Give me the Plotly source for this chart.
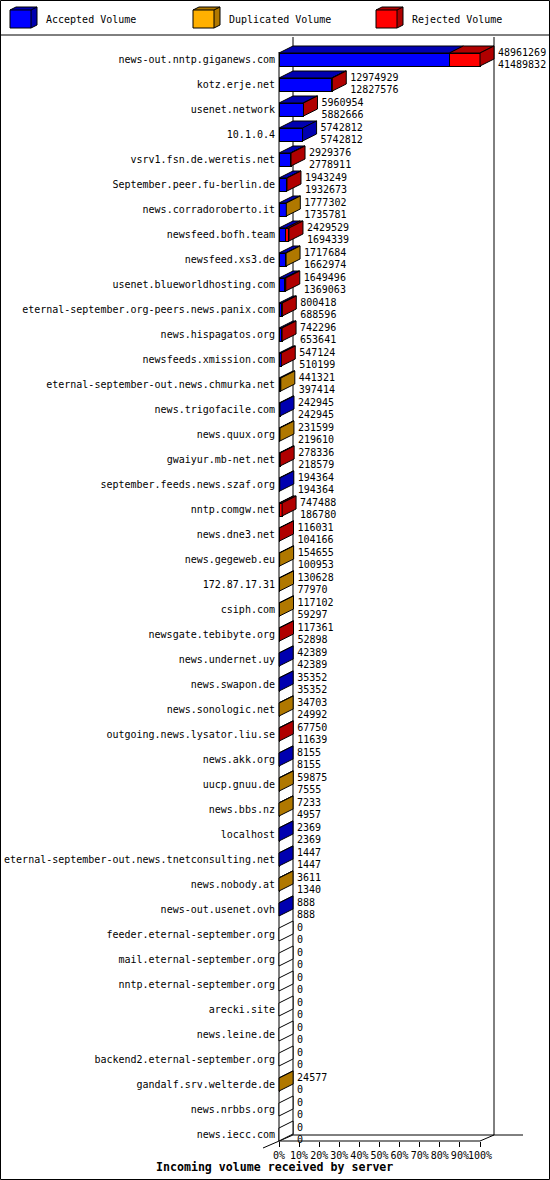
import plotly.graph_objects as go

HOSTS = [
    "news-out.nntp.giganews.com", "kotz.erje.net", "usenet.network", "10.1.0.4",
    "vsrv1.fsn.de.weretis.net", "September.peer.fu-berlin.de", "news.corradoroberto.it",
    "newsfeed.bofh.team", "newsfeed.xs3.de", "usenet.blueworldhosting.com",
    "eternal-september.org-peers.news.panix.com", "news.hispagatos.org",
    "newsfeeds.xmission.com", "eternal-september-out.news.chmurka.net",
    "news.trigofacile.com", "news.quux.org", "gwaiyur.mb-net.net",
    "september.feeds.news.szaf.org", "nntp.comgw.net", "news.dne3.net",
    "news.gegeweb.eu", "172.87.17.31", "csiph.com", "newsgate.tebibyte.org",
    "news.undernet.uy", "news.swapon.de", "news.sonologic.net",
    "outgoing.news.lysator.liu.se", "news.akk.org", "uucp.gnuu.de", "news.bbs.nz",
    "localhost", "eternal-september-out.news.tnetconsulting.net", "news.nobody.at",
    "news-out.usenet.ovh", "feeder.eternal-september.org", "mail.eternal-september.org",
    "nntp.eternal-september.org", "arecki.site", "news.leine.de",
    "backend2.eternal-september.org", "gandalf.srv.welterde.de", "news.nrbbs.org",
    "news.iecc.com",
]
ACCEPTED = [
    41489832, 12827576, 5882666, 5742812, 2778911, 1932673, 1735781, 1694339,
    1662974, 1369063, 688596, 653641, 510199, 397414, 242945, 219610, 218579,
    194364, 186780, 104166, 100953, 77970, 59297, 52898, 42389, 35352, 24992,
    11639, 8155, 7555, 4957, 2369, 1447, 1340, 888, 0, 0, 0, 0, 0, 0, 0, 0, 0,
]
DUPLICATED = [
    0, 0, 0, 0, 0, 0, 41521, 0, 54710, 0, 0, 0, 0, 43907, 0, 11989, 0, 0, 0, 0,
    53702, 52658, 57805, 0, 0, 0, 9711, 0, 0, 52320, 2276, 0, 0, 2271, 0,
    0, 0, 0, 0, 0, 0, 24577, 0, 0,
]
REJECTED = [
    7471437, 147353, 78288, 0, 150465, 10576, 0, 735190, 0, 280433, 111822,
    88655, 36925, 0, 0, 0, 59757, 0, 560708, 11865, 0, 0, 0, 64463, 0, 0, 0,
    56111, 0, 0, 0, 0, 0, 0, 0, 0, 0, 0, 0, 0, 0, 0, 0, 0,
]
SERIES = ["Accepted Volume", "Duplicated Volume", "Rejected Volume"]
X_TICKS = [0, 10, 20, 30, 40, 50, 60, 70, 80, 90, 100]

FRONT = ["#0000FF", "#FFB000", "#FF0000"]
DARK = ["#0000B0", "#B07800", "#B00000"]
FONT = "DejaVu Sans Mono"

W, H = 550, 1180
PX = 2.01            # pixels per percent
X0 = 279             # pixel of 0 %
ROW0, ROW = 59.5, 25  # pixel of first row centre, row pitch
DX = 14 / PX          # 3d depth in x units
DY = 7 / ROW          # 3d depth in row units
HALF = 6.5 / ROW


def fx(p):
    return (p - X0) / PX


def fy(p):
    return (p - ROW0) / ROW


n = len(HOSTS)
totals = [a + d + r for a, d, r in zip(ACCEPTED, DUPLICATED, REJECTED)]
vmax = max(totals)
segs = [[v / vmax * 100 for v in s] for s in (ACCEPTED, DUPLICATED, REJECTED)]
rows = list(range(n))

fig = go.Figure()

# front faces
for k in range(3):
    fig.add_trace(go.Bar(
        y=rows, x=segs[k], orientation="h", width=2 * HALF,
        marker=dict(color=FRONT[k], line=dict(color="black", width=1)),
        name=SERIES[k], showlegend=False, hoverinfo="skip",
    ))

# top faces
for k in range(3):
    xs, ys = [], []
    for i in rows:
        v = segs[k][i]
        if v <= 0:
            continue
        x0 = sum(segs[j][i] for j in range(k))
        x1 = x0 + v
        yt = i - HALF
        xs += [x0, x1, x1 + DX, x0 + DX, x0, None]
        ys += [yt, yt, yt - DY, yt - DY, yt, None]
    fig.add_trace(go.Scatter(
        x=xs, y=ys, mode="lines", fill="toself", fillcolor=DARK[k],
        line=dict(color="black", width=1), showlegend=False, hoverinfo="skip",
    ))

# side faces, coloured by last non-empty segment
side = {c: ([], []) for c in DARK + ["white"]}
for i in rows:
    col = "white"
    for k in range(3):
        if segs[k][i] > 0:
            col = DARK[k]
    xe = segs[0][i] + segs[1][i] + segs[2][i]
    yt, yb = i - HALF, i + HALF
    xs, ys = side[col]
    xs += [xe, xe + DX, xe + DX, xe, xe, None]
    ys += [yt, yt - DY, yb - DY, yb, yt, None]
for col, (xs, ys) in side.items():
    fig.add_trace(go.Scatter(
        x=xs, y=ys, mode="lines", fill="toself", fillcolor=col,
        line=dict(color="black", width=1), showlegend=False, hoverinfo="skip",
    ))

# value labels
lab_x = [t / vmax * 100 + DX + 4 / PX for t in totals]
fig.add_trace(go.Scatter(
    x=lab_x, y=[i - 6 / ROW for i in rows], mode="text",
    text=[str(t) for t in totals], textposition="middle right",
    textfont=dict(family=FONT, size=10, color="black"),
    showlegend=False, hoverinfo="skip",
))
fig.add_trace(go.Scatter(
    x=lab_x, y=[i + 5.5 / ROW for i in rows], mode="text",
    text=[str(a) for a in ACCEPTED], textposition="middle right",
    textfont=dict(family=FONT, size=10, color="black"),
    showlegend=False, hoverinfo="skip",
))

# frame / walls
line = dict(color="black", width=1)
walls = [
    (fx(293), fy(37), fx(293), fy(1135)),
    (fx(494), fy(37), fx(494), fy(1135)),
    (0, fy(52), 0, fy(1141)),
    (fx(293), fy(1135), fx(523), fy(1135)),
    (0, fy(1141), 100, fy(1141)),
    (fx(263), fy(1148), fx(293), fy(1135)),
    (100, fy(1141), fx(494), fy(1135)),
    (fx(0.5), fy(35), fx(549.5), fy(35)),
]
for x0, y0, x1, y1 in walls:
    fig.add_shape(type="line", x0=x0, y0=y0, x1=x1, y1=y1, line=line, layer="below")
fig.add_shape(type="rect", x0=fx(0.5), y0=fy(0.5), x1=fx(549.5), y1=fy(1179.5),
              line=line, layer="below")

# legend
for k, ox in enumerate([10, 193, 376]):
    fig.add_shape(type="path", layer="above", line=line, fillcolor=DARK[k],
                  path=f"M{fx(ox)},{fy(10)} L{fx(ox + 6)},{fy(7)} L{fx(ox + 27)},{fy(7)} "
                       f"L{fx(ox + 27)},{fy(25)} L{fx(ox + 21)},{fy(28)} Z")
    fig.add_shape(type="rect", layer="above", line=line, fillcolor=FRONT[k],
                  x0=fx(ox), y0=fy(10), x1=fx(ox + 21), y1=fy(28))
    fig.add_shape(type="line", layer="above", line=line,
                  x0=fx(ox + 21), y0=fy(10), x1=fx(ox + 27), y1=fy(7))
    fig.add_annotation(x=fx(ox + 34), y=fy(19), text=SERIES[k], showarrow=False,
                       xanchor="left", yanchor="middle",
                       font=dict(family=FONT, size=10, color="black"))

fig.add_annotation(x=fx(274), y=fy(1167), text="Incoming volume received by server",
                   showarrow=False, xanchor="center", yanchor="middle",
                   font=dict(family=FONT, size=11.6, color="black", weight="bold"))

fig.update_layout(
    width=W, height=H, barmode="stack",
    margin=dict(l=0, r=0, t=0, b=0, pad=0),
    paper_bgcolor="white", plot_bgcolor="white",
    xaxis=dict(range=[fx(0), fx(W)], tickvals=X_TICKS,
               ticktext=[f"{t}%" for t in X_TICKS], ticks="outside", ticklen=5,
               tickcolor="black", showgrid=False, zeroline=False, showline=False,
               anchor="free", position=1 - 1141 / H, fixedrange=True, tickangle=0,
               tickfont=dict(family=FONT, size=10, color="black")),
    yaxis=dict(range=[fy(H), fy(0)], tickvals=rows, ticktext=HOSTS, ticks="",
               showgrid=False, zeroline=False, showline=False, ticklabelstandoff=4,
               anchor="free", position=X0 / W, fixedrange=True,
               tickfont=dict(family=FONT, size=10, color="black")),
)

fig.write_html("out.html", config={"displayModeBar": False},
               post_script="document.body.style.margin='0';")
